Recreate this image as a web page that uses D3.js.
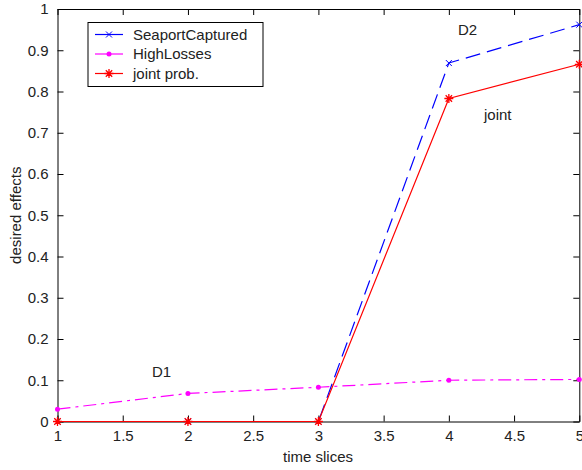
<!DOCTYPE html>
<html>
<head>
<meta charset="utf-8">
<script src="https://cdn.jsdelivr.net/npm/d3@7"></script>
<style>
  body { margin: 0; background: #fff; }
  text { font-family: "Liberation Sans", Arial, sans-serif; fill: #222; }
</style>
</head>
<body>
<script>
const W = 582, H = 470;
const M = { left: 57.5, right: 2.7, top: 9, bottom: 48.5 };

// data
const timeSlices = [1, 2, 3, 4, 5];
const seaportCaptured = [0, 0, 0, 0.869, 0.962];
const highLosses = [0.030, 0.068, 0.083, 0.100, 0.102];
const jointProb = [0, 0, 0, 0.783, 0.866];

const xTicks = [1, 1.5, 2, 2.5, 3, 3.5, 4, 4.5, 5];
const yTicks = [0, 0.1, 0.2, 0.3, 0.4, 0.5, 0.6, 0.7, 0.8, 0.9, 1];

const svg = d3.select("body").append("svg")
    .attr("width", W)
    .attr("height", H);

const x = d3.scaleLinear().domain([1, 5]).range([M.left, W - M.right]);
const y = d3.scaleLinear().domain([0, 1]).range([H - M.bottom, M.top]);

const fmt = d => String(d);

// axes box with ticks inside on all four sides
const ax = svg.append("g").attr("class", "axes");
ax.append("g")
    .attr("transform", `translate(0,${y(0)})`)
    .call(d3.axisBottom(x).tickValues(xTicks).tickSizeInner(-6).tickSizeOuter(0).tickPadding(9).tickFormat(fmt));
ax.append("g")
    .attr("transform", `translate(0,${y(1)})`)
    .call(d3.axisTop(x).tickValues(xTicks).tickSizeInner(-6).tickSizeOuter(0).tickFormat(""));
ax.append("g")
    .attr("transform", `translate(${x(1)},0)`)
    .call(d3.axisLeft(y).tickValues(yTicks).tickSizeInner(-6).tickSizeOuter(0).tickPadding(9).tickFormat(fmt));
ax.append("g")
    .attr("transform", `translate(${x(5)},0)`)
    .call(d3.axisRight(y).tickValues(yTicks).tickSizeInner(-6).tickSizeOuter(0).tickFormat(""));

ax.selectAll(".domain").attr("stroke", "#000").attr("stroke-width", 1);
ax.selectAll(".tick line").attr("stroke", "#000");
ax.selectAll(".tick text")
    .style("font-family", "'Liberation Sans', Arial, sans-serif")
    .style("font-size", "15px")
    .attr("fill", "#222");

const series = [
    { name: "SeaportCaptured", values: seaportCaptured, color: "#0000ff", dash: "15,7", marker: "x" },
    { name: "HighLosses", values: highLosses, color: "#ff00ff", dash: "13,5,3,5", marker: "dot" },
    { name: "joint prob.", values: jointProb, color: "#ff0000", dash: null, marker: "star" }
];

const line = d3.line()
    .x((d, i) => x(timeSlices[i]))
    .y(d => y(d));

function drawMarker(g, type, cx, cy, color) {
    if (type === "x") {
        g.append("path")
            .attr("d", `M${cx - 3},${cy - 3}L${cx + 3},${cy + 3}M${cx - 3},${cy + 3}L${cx + 3},${cy - 3}`)
            .attr("stroke", color).attr("stroke-width", 1);
    } else if (type === "dot") {
        g.append("circle").attr("cx", cx).attr("cy", cy).attr("r", 2.5).attr("fill", color);
    } else {
        g.append("path")
            .attr("d", `M${cx - 4.5},${cy}L${cx + 4.5},${cy}M${cx},${cy - 4.5}L${cx},${cy + 4.5}` +
                `M${cx - 3.2},${cy - 3.2}L${cx + 3.2},${cy + 3.2}M${cx - 3.2},${cy + 3.2}L${cx + 3.2},${cy - 3.2}`)
            .attr("stroke", color).attr("stroke-width", 1.3);
    }
}

// blue and magenta first, red on top
series.forEach(s => {
    const g = svg.append("g");
    g.append("path")
        .datum(s.values)
        .attr("d", line)
        .attr("fill", "none")
        .attr("stroke", s.color)
        .attr("stroke-width", 1.2)
        .attr("stroke-dasharray", s.dash);
    s.values.forEach((v, i) => drawMarker(g, s.marker, x(timeSlices[i]), y(v), s.color));
});

// legend
const lg = svg.append("g").attr("transform", "translate(88,22.5)");
lg.append("rect")
    .attr("width", 175).attr("height", 64)
    .attr("fill", "#fff").attr("stroke", "#000").attr("stroke-width", 1);
series.forEach((s, i) => {
    const cy = 12 + i * 19.5;
    lg.append("line")
        .attr("x1", 7).attr("x2", 35).attr("y1", cy).attr("y2", cy)
        .attr("stroke", s.color).attr("stroke-width", 1.2);
    drawMarker(lg, s.marker, 21, cy, s.color);
    lg.append("text")
        .attr("x", 45).attr("y", cy + 5)
        .style("font-size", "15px")
        .text(s.name);
});

// annotations
svg.append("text").attr("x", 458).attr("y", 35).style("font-size", "15px").text("D2");
svg.append("text").attr("x", 484).attr("y", 120).style("font-size", "15px").text("joint");
svg.append("text").attr("x", 152).attr("y", 377).style("font-size", "15px").text("D1");

// axis labels
svg.append("text")
    .attr("x", 318).attr("y", 462)
    .attr("text-anchor", "middle")
    .style("font-size", "15px")
    .text("time slices");
svg.append("text")
    .attr("transform", `translate(21,${(y(0) + y(1)) / 2}) rotate(-90)`)
    .attr("text-anchor", "middle")
    .style("font-size", "15px")
    .text("desired effects");
</script>
</body>
</html>
